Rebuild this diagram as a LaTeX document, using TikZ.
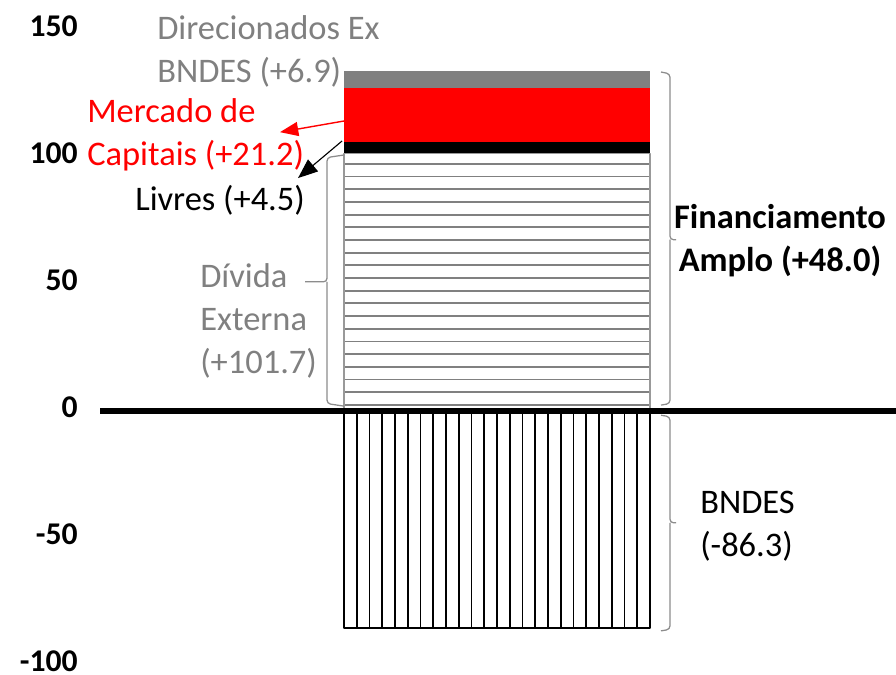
\documentclass[tikz,border=0pt]{standalone}
\usepackage{fontspec}
\setmainfont{Carlito}
\usetikzlibrary{arrows.meta}
\definecolor{lblgray}{RGB}{128,128,128}
\definecolor{barred}{RGB}{255,0,0}

\begin{document}
\begin{tikzpicture}[line join=round,x=0.025cm,y=0.0634cm,
	lbl/.style={inner sep=0pt,align=left,font=\fontsize{24.5}{30.5}\selectfont},
	ticklbl/.style={inner sep=0pt,anchor=east,font=\fontsize{22.5}{26}\selectfont\bfseries},
	bracket/.style={draw=black!45,line width=0.9pt,rounded corners=2.5pt},
	hatchh/.style={draw=black!50,line width=1.3pt},
	hatchv/.style={draw=black,line width=1.1pt}]
		\useasboundingbox (0,-103.7) rectangle (896,162.1);
		% barra positiva
		\draw[draw=black!40,line width=0.9pt] (344,0) rectangle (650,101.7);
		\foreach \v in {2.5,7.5,...,97.5} \draw[hatchh] (345,\v)--(649,\v);
		\fill[black] (344,101.7) rectangle (650,106.2);
		\fill[barred] (344,106.2) rectangle (650,127.4);
		\fill[lblgray] (344,127.4) rectangle (650,134.3);
		% barra negativa
		\draw[hatchv] (344,0) rectangle (650,-85.5);
		\foreach \k in {1,...,23} \draw[hatchv] ({344+12.75*\k},0)--({344+12.75*\k},-85.5);
		\draw[line width=4pt] (100,0)--(896,0);
		\foreach \v in {150,100,...,-100} \node[ticklbl] (tick\v) at (78,\v+1.6) {\v};
		% chaves
		\draw[bracket] (344,101) -- (327,100) -- (327,51) -- (305,51) (327,51) -- (327,3) -- (344,2);
		\draw[bracket] (661,133.7) -- (670,133) -- (670,67.6) -- (676,67.6) (670,67.6) -- (670,3) -- (661,2.4);
		\draw[bracket] (661,-1.6) -- (670,-2.2) -- (670,-44) -- (676,-44) (670,-44) -- (670,-86) -- (661,-86.6);
		% rotulos
		\node[lbl,anchor=west,text=lblgray] (direc) at (157,141.8) {Direcionados Ex\\BNDES (+6.9)};
		\node[lbl,anchor=west,text=barred] (merc) at (87,108.8) {Mercado de\\Capitais (+21.2)};
		\node[lbl,anchor=west] (livres) at (135,83.2) {Livres (+4.5)};
		\node[lbl,anchor=west,text=lblgray] (divida) at (200,35.5) {D\'ivida\\Externa\\(+101.7)};
		\node[lbl,align=center,font=\fontsize{24.5}{30.5}\selectfont\bfseries] (financ) at (780,67.4) {Financiamento\\Amplo (+48.0)};
		\node[lbl,anchor=west] (bndes) at (700,-45.5) {BNDES\\(-86.3)};
		% setas
		\coordinate (mercsrc) at (344,114.4);
		\coordinate (merctip) at (280,110);
		\coordinate (livsrc) at (342,106.5);
		\coordinate (livtip) at (298,91.9);
		\draw[barred,line width=1pt,-{Triangle[length=13pt,width=10pt]}] (mercsrc) -- (merctip);
		\draw[black,line width=0.8pt,-{Triangle[length=14pt,width=11pt]}] (livsrc) -- (livtip);
		\end{tikzpicture}
\end{document}
